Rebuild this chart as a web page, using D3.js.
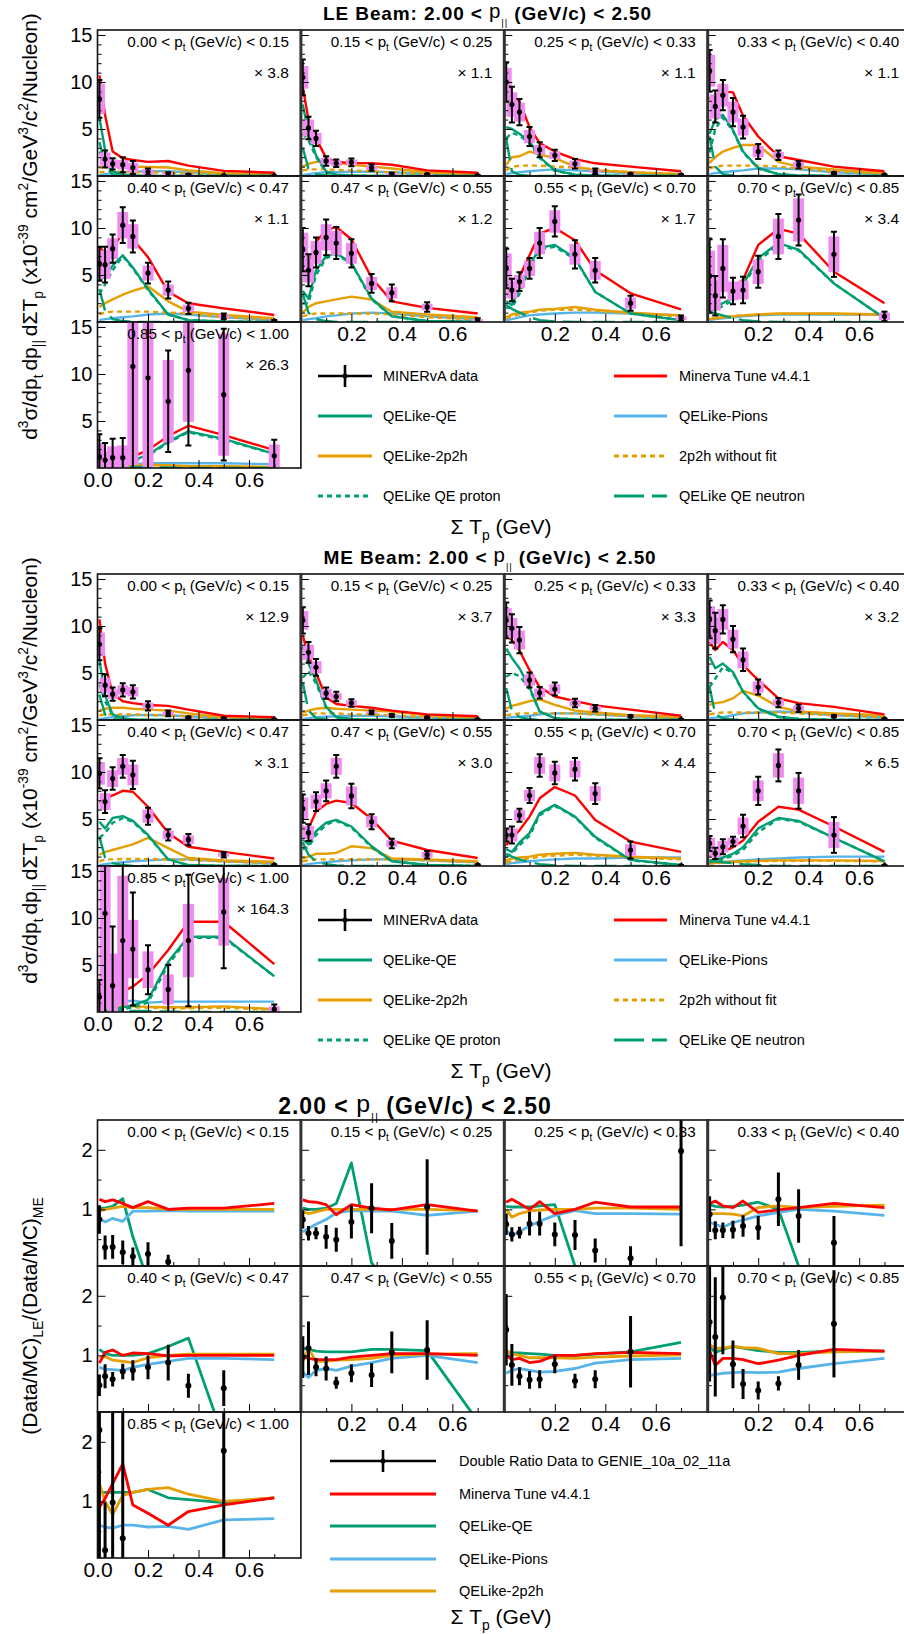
<!DOCTYPE html>
<html><head><meta charset="utf-8">
<script src="https://cdn.jsdelivr.net/npm/d3@7"></script>
<style>
body{margin:0;background:#fff}
svg{display:block}
text{font-family:"Liberation Sans",Arial,Helvetica,sans-serif;fill:#000}
</style>
</head><body>
<svg id="chart" width="904" height="1634"></svg>
<script>
// Sum of proton kinetic energy bin centres (GeV)
const sumTpCenters = [0.0075, 0.03, 0.06, 0.1, 0.14, 0.2, 0.28, 0.36, 0.5, 0.7];
const ptLow  = ["0.00","0.15","0.25","0.33","0.40","0.47","0.55","0.70","0.85"];
const ptHigh = ["0.15","0.25","0.33","0.40","0.47","0.55","0.70","0.85","1.00"];
const xTickValues = [0.0, 0.2, 0.4, 0.6];
const xsecTicks = [5, 10, 15];
const ratioTicks = [1, 2];

// ---------- LE beam cross sections (scaled, 1e-39 cm^2/GeV^3/c^2/nucleon) ----------
const leScale = ["3.8","1.1","1.1","1.1","1.1","1.2","1.7","3.4","26.3"];
const leData = [
 [8.2,1.8,1.3,1.2,0.9,0.45,0.2,0.1,0.03,0.01],
 [10.5,5.1,4.0,1.6,1.35,1.45,0.9,0.2,0.15,0.05],
 [10.0,7.6,6.8,4.2,2.8,2.2,1.3,0.5,0.2,0.1],
 [11.2,7.4,8.6,6.8,5.2,2.6,2.2,1.2,0.3,0.1],
 [6.2,6.1,7.8,10.3,9.1,5.2,3.4,1.45,0.6,0.1],
 [7.7,5.5,7.4,9.0,8.4,7.3,4.1,3.1,1.6,0.2],
 [5.7,3.4,4.3,5.7,8.4,10.7,7.2,5.5,2.0,0.4],
 [4.9,2.8,5.7,3.3,3.4,5.35,9.1,10.85,7.2,0.6],
 [1.2,0.85,1.1,1.1,10.8,9.6,7.1,10.4,7.8,1.3]
];
const leErr = [
 [2.0,0.9,0.6,0.8,0.7,0.35,0.2,0.1,0.05,0.02],
 [1.9,1.2,0.8,0.5,0.4,0.4,0.35,0.15,0.1,0.05],
 [2.1,1.9,1.4,1.0,0.8,0.6,0.5,0.3,0.1,0.05],
 [2.2,1.7,1.6,1.5,1.2,0.8,0.5,0.4,0.1,0.05],
 [1.8,1.9,1.5,1.9,1.7,1.1,0.9,0.6,0.3,0.1],
 [2.3,1.7,1.6,1.9,1.7,1.5,1.0,0.9,0.5,0.2],
 [2.1,1.2,1.0,1.1,1.6,1.6,1.5,1.3,0.8,0.3],
 [3.9,2.1,3.1,1.4,1.4,1.7,2.4,2.7,2.4,0.5],
 [2.4,1.8,2.0,2.1,12,11,5.4,8.0,7.0,1.7]
];
const leSys = [
 [1.6,0.7,0.45,0.5,0.5,0.3,0.15,0.08,0.03,0.01],
 [1.2,0.9,0.6,0.35,0.3,0.3,0.25,0.1,0.08,0.03],
 [1.5,1.3,1.0,0.7,0.5,0.4,0.35,0.2,0.08,0.03],
 [1.7,1.3,1.2,1.1,0.9,0.6,0.35,0.3,0.08,0.03],
 [1.4,1.5,1.1,1.4,1.3,0.8,0.6,0.4,0.2,0.05],
 [1.8,1.3,1.2,1.4,1.3,1.1,0.7,0.6,0.35,0.1],
 [1.6,0.9,0.7,0.8,1.2,1.2,1.1,1.0,0.6,0.2],
 [2.7,1.6,2.5,1.0,1.0,1.3,1.9,2.3,1.9,0.4],
 [1.5,0.9,1.2,1.3,10.5,9.5,4.4,5.5,6.5,1.2]
];
const leTune = [
 [10.7,6.5,2.6,1.9,1.7,1.5,1.6,1.1,0.55,0.35],
 [9.5,6.0,4.0,1.9,1.5,1.4,1.35,1.2,0.6,0.35],
 [9.1,8.6,7.9,5.2,3.5,2.6,1.8,1.35,1.0,0.5],
 [8.2,8.5,9.0,8.9,6.4,4.2,2.1,1.7,1.0,0.5],
 [8.0,7.3,7.8,9.5,8.8,6.9,3.2,2.0,1.45,0.75],
 [6.8,6.0,8.5,9.8,10.1,8.8,4.7,2.2,1.5,0.9],
 [3.0,3.2,4.8,7.1,9.4,10.0,8.7,5.5,3.05,1.35],
 [2.5,3.0,3.5,3.5,4.5,8.2,9.9,9.4,5.35,2.0],
 [0.2,0.3,0.5,0.9,1.2,1.9,3.4,4.5,3.5,1.9]
];
const leQE = [
 [6.2,2.8,0.5,0.15,0.05,0,0,0,0,0],
 [7.6,4.6,2.2,0.5,0.15,0.05,0,0,0,0],
 [5.2,5.0,4.5,3.7,2.0,0.6,0.15,0.05,0,0],
 [4.5,6.0,6.5,4.9,2.6,0.85,0.2,0.05,0,0],
 [4.5,4.8,6.0,7.1,5.8,3.5,0.8,0.2,0.05,0],
 [3.3,2.5,5.5,7.0,7.3,6.3,2.5,0.6,0.1,0.02],
 [2.2,1.8,3.6,6.0,7.9,8.2,6.8,3.2,0.9,0.2],
 [1.7,1.6,2.0,2.6,4.0,6.8,8.4,7.7,4.1,0.4],
 [0.05,0.1,0.2,0.5,0.8,1.4,2.8,3.9,3.1,1.5]
];
const leQEProton = [
 [2.6,1.5,0.4,0.1,0.03,0,0,0,0,0],
 [4.5,3.8,2.0,0.4,0.1,0.03,0,0,0,0],
 [4.0,4.6,4.3,3.5,1.9,0.55,0.15,0.05,0,0],
 [2.5,5.0,6.2,4.8,2.5,0.8,0.2,0.05,0,0],
 [3.0,4.0,5.5,7.0,5.7,3.4,0.8,0.2,0.05,0],
 [2.0,2.0,5.0,6.8,7.2,6.2,2.4,0.6,0.1,0],
 [1.5,1.5,3.0,5.8,7.7,8.0,6.7,3.2,0.9,0.2],
 [1.2,1.3,1.7,2.3,3.8,6.5,8.2,7.6,4.1,0.4],
 [0.03,0.08,0.15,0.4,0.7,1.3,2.7,3.8,3.0,1.5]
];
const leQENeutron = [
 [3.6,1.3,0.1,0.05,0,0,0,0,0,0],
 [3.0,0.8,0.2,0.05,0,0,0,0,0,0],
 [4.0,0.5,0.1,0.03,0,0,0,0,0,0],
 [4.2,1.0,0.2,0.05,0,0,0,0,0,0],
 [3.5,1.2,0.3,0.1,0,0,0,0,0,0],
 [3.0,1.0,0.3,0.1,0,0,0,0,0,0],
 [1.8,1.4,1.0,0.5,0.2,0.05,0,0,0,0],
 [1.0,0.9,0.7,0.4,0.2,0.05,0,0,0,0],
 [0.05,0.05,0.1,0.1,0.1,0.1,0.05,0,0,0]
];
const le2p2h = [
 [0.8,1.1,1.1,1.0,1.0,0.95,0.9,0.6,0.3,0.15],
 [1.0,1.3,1.5,1.5,1.4,1.2,1.0,0.8,0.4,0.2],
 [1.2,2.0,2.1,2.6,2.3,1.9,1.0,0.6,0.4,0.2],
 [1.4,2.0,2.6,3.0,3.3,3.3,1.5,1.0,0.7,0.3],
 [1.6,2.0,2.4,2.9,3.3,3.8,2.2,1.1,0.75,0.4],
 [1.0,1.6,2.0,2.2,2.4,2.7,2.4,1.1,0.8,0.5],
 [0.5,0.8,1.0,1.1,1.3,1.4,1.6,1.3,1.0,0.7],
 [0.3,0.4,0.5,0.6,0.7,0.8,0.9,0.9,0.9,0.8],
 [0.2,0.2,0.2,0.3,0.3,0.35,0.3,0.2,0.2,0.1]
];
const le2p2hNoFit = [
 [0.4,0.45,0.45,0.45,0.4,0.4,0.35,0.3,0.15,0.08],
 [0.6,0.7,0.7,0.7,0.65,0.6,0.5,0.4,0.2,0.1],
 [0.6,1.0,1.1,1.1,1.1,1.0,0.9,0.7,0.4,0.2],
 [0.8,1.0,1.1,1.1,1.1,1.1,1.0,0.8,0.5,0.25],
 [0.8,1.0,1.1,1.1,1.1,1.1,1.0,0.9,0.5,0.3],
 [0.6,0.8,0.9,0.9,0.9,0.9,0.9,0.8,0.5,0.3],
 [0.4,0.6,0.8,1.0,1.2,1.3,1.3,1.2,0.9,0.6],
 [0.3,0.4,0.5,0.6,0.7,0.8,0.85,0.85,0.85,0.75],
 [0.15,0.15,0.15,0.25,0.25,0.3,0.25,0.15,0.15,0.08]
];
const lePions = [
 [0.1,0.2,0.3,0.4,0.45,0.5,0.5,0.4,0.25,0.1],
 [0.1,0.2,0.3,0.4,0.4,0.45,0.45,0.4,0.25,0.15],
 [0.2,0.3,0.4,0.5,0.6,0.7,0.6,0.5,0.3,0.15],
 [0.2,0.3,0.4,0.5,0.6,0.8,0.8,0.7,0.4,0.2],
 [0.2,0.3,0.4,0.5,0.6,0.8,0.9,0.8,0.5,0.2],
 [0.2,0.3,0.4,0.6,0.7,0.9,1.0,0.9,0.6,0.3],
 [0.2,0.3,0.5,0.7,0.8,0.9,1.0,1.0,0.9,0.7],
 [0.2,0.3,0.4,0.5,0.6,0.7,0.8,0.8,0.8,0.8],
 [0.1,0.1,0.2,0.3,0.4,0.5,0.5,0.5,0.5,0.4]
];

// ---------- ME beam cross sections ----------
const meScale = ["12.9","3.7","3.3","3.2","3.1","3.0","4.4","6.5","164.3"];
const meData = [
 [8.05,3.7,2.75,3.2,3.0,1.5,0.7,0.25,0.15,0.05],
 [10.6,7.2,5.6,2.85,2.5,1.8,0.8,0.5,0.25,0.05],
 [10.6,9.75,8.5,4.25,2.9,3.3,1.8,1.25,0.4,0.05],
 [10.7,9.5,10.7,8.6,6.4,3.5,1.85,1.25,0.4,0.1],
 [9.85,6.85,9.3,10.6,9.7,5.3,3.3,2.8,1.2,0.1],
 [6.1,3.55,6.85,8.0,10.6,7.45,4.7,2.4,1.2,0.1],
 [3.3,3.3,5.4,7.5,10.7,9.9,10.3,7.7,1.7,0.05],
 [2.4,1.35,2.05,2.6,4.25,8.0,10.7,8.0,3.3,0.05],
 [1.6,10.5,2.8,7.6,6.7,4.5,2.4,7.6,10.65,0.3]
];
const meErr = [
 [1.7,1.15,0.7,0.7,0.7,0.5,0.3,0.1,0.08,0.03],
 [1.4,1.1,0.9,0.6,0.5,0.4,0.2,0.15,0.1,0.03],
 [1.9,1.5,1.4,0.8,0.6,0.7,0.45,0.35,0.1,0.03],
 [2.0,1.9,1.5,1.4,1.2,0.8,0.5,0.4,0.1,0.05],
 [1.6,1.2,1.2,1.2,1.5,0.9,0.6,0.6,0.3,0.05],
 [1.5,0.9,1.0,1.1,1.2,1.3,0.8,0.5,0.4,0.05],
 [0.7,0.9,0.7,0.8,1.2,1.2,1.2,1.1,0.9,0.05],
 [0.8,0.6,0.8,0.5,1.2,1.5,1.7,1.9,1.9,0.05],
 [1.8,12,6.3,10,6,2.6,2.6,7,6,0.5]
];
const meSys = [
 [1.25,0.8,0.5,0.5,0.5,0.35,0.2,0.08,0.05,0.02],
 [1.0,0.8,0.65,0.45,0.35,0.3,0.15,0.1,0.07,0.02],
 [1.3,1.1,1.0,0.6,0.45,0.5,0.35,0.25,0.08,0.02],
 [1.4,1.4,1.1,1.0,0.9,0.6,0.35,0.3,0.08,0.03],
 [1.2,0.9,0.9,0.9,1.1,0.7,0.45,0.45,0.2,0.03],
 [1.2,0.7,0.75,0.8,0.9,1.0,0.6,0.35,0.3,0.03],
 [0.6,0.7,0.55,0.6,0.9,0.9,0.9,0.8,0.6,0.03],
 [0.6,0.45,0.6,0.4,0.9,1.1,1.3,1.4,1.4,0.03],
 [1.6,10,3.4,6.9,3.1,1.95,1.6,3.9,3.6,0.3]
];
const meTune = [
 [10.7,6.0,2.8,2.0,1.8,1.6,1.5,1.1,0.45,0.3],
 [9.0,6.8,5.0,2.4,1.7,1.5,1.3,1.0,0.6,0.4],
 [9.0,8.5,7.4,5.3,3.5,2.5,2.0,1.55,1.1,0.45],
 [8.3,7.45,8.3,7.45,5.85,4.25,2.3,1.8,1.4,0.6],
 [6.7,7.2,7.5,8.0,7.9,6.3,3.5,2.05,1.5,0.8],
 [4.2,4.0,5.8,6.6,6.95,6.7,5.0,2.7,1.7,0.85],
 [2.2,3.0,3.8,5.25,7.2,8.4,7.5,4.9,2.6,1.5],
 [1.0,1.2,1.5,2.0,2.7,4.7,6.3,6.0,4.2,1.5],
 [1.0,1.2,1.6,2.2,2.7,4.0,6.6,9.6,9.6,5.1]
];
const meQE = [
 [6.4,2.6,0.6,0.2,0.05,0,0,0,0,0],
 [7.8,6.0,4.2,1.4,0.3,0.1,0,0,0,0],
 [7.6,6.6,5.5,3.5,0.9,0.2,0.05,0,0,0],
 [6.7,5.5,6.0,5.1,3.0,1.25,0.35,0.1,0,0],
 [4.7,4.0,5.1,5.3,4.8,3.3,0.7,0.1,0,0],
 [2.8,2.3,3.7,4.6,4.9,4.2,2.1,0.5,0.1,0],
 [1.8,1.5,2.5,3.5,5.6,6.5,5.25,3.1,0.65,0.1],
 [0.6,0.7,0.9,1.3,2.0,4.0,5.1,4.8,3.0,0.5],
 [0.1,0.2,0.3,0.5,0.7,1.3,5.35,8.0,8.0,3.8]
];
const meQEProton = [
 [3.8,2.0,0.5,0.15,0.03,0,0,0,0,0],
 [4.5,5.2,3.9,1.3,0.3,0.1,0,0,0,0],
 [4.6,5.0,4.7,3.3,0.9,0.2,0.05,0,0,0],
 [3.5,4.4,5.6,5.0,3.0,1.2,0.3,0.1,0,0],
 [3.0,3.5,4.6,5.1,4.7,3.2,0.7,0.1,0,0],
 [1.8,2.0,3.3,4.4,4.8,4.1,2.0,0.5,0.1,0],
 [1.0,1.3,2.2,3.2,5.4,6.4,5.2,3.0,0.6,0.1],
 [0.4,0.5,0.7,1.1,1.7,3.6,5.0,4.7,3.0,0.5],
 [0.05,0.1,0.2,0.3,0.5,1.0,5.0,7.9,7.9,3.8]
];
const meQENeutron = [
 [2.7,0.6,0.1,0.03,0,0,0,0,0,0],
 [4.0,1.0,0.2,0.05,0,0,0,0,0,0],
 [3.4,1.0,0.3,0.1,0,0,0,0,0,0],
 [3.5,0.6,0.2,0.05,0,0,0,0,0,0],
 [3.1,0.9,0.3,0.1,0,0,0,0,0,0],
 [2.5,1.2,0.5,0.2,0.05,0,0,0,0,0],
 [1.3,1.0,0.7,0.4,0.2,0.05,0,0,0,0],
 [0.5,0.5,0.4,0.3,0.2,0.1,0,0,0,0],
 [0.05,0.05,0.05,0.1,0.1,0.1,0.05,0,0,0]
];
const me2p2h = [
 [1.0,1.2,1.3,1.3,1.2,1.1,1.0,0.7,0.3,0.15],
 [0.8,1.0,1.2,1.3,1.2,1.1,1.0,0.9,0.5,0.3],
 [1.2,1.5,1.7,2.0,2.2,1.6,1.0,0.8,0.5,0.35],
 [1.6,1.8,1.9,2.3,3.1,2.6,1.4,0.9,0.7,0.5],
 [1.2,1.5,1.7,2.0,2.3,3.0,1.9,0.85,0.6,0.45],
 [0.8,1.0,1.3,1.3,1.4,2.1,1.9,0.8,0.7,0.5],
 [0.6,0.8,0.9,1.0,1.2,1.3,1.4,1.2,1.0,0.8],
 [0.3,0.35,0.4,0.45,0.5,0.55,0.6,0.6,0.6,0.55],
 [0.5,0.5,0.55,0.6,0.6,0.55,0.5,0.5,0.6,0.3]
];
const me2p2hNoFit = [
 [0.5,0.6,0.6,0.6,0.6,0.5,0.5,0.4,0.2,0.1],
 [0.5,0.6,0.7,0.7,0.7,0.6,0.6,0.5,0.3,0.15],
 [0.5,0.6,0.7,0.7,0.7,0.7,0.7,0.6,0.4,0.2],
 [0.6,0.7,0.8,0.8,0.8,0.8,0.8,0.7,0.5,0.3],
 [0.5,0.7,0.7,0.75,0.75,0.75,0.7,0.65,0.5,0.3],
 [0.5,0.6,0.7,0.7,0.7,0.7,0.7,0.7,0.6,0.4],
 [0.4,0.5,0.7,0.8,1.0,1.1,1.2,1.1,0.9,0.7],
 [0.3,0.3,0.35,0.4,0.45,0.5,0.55,0.55,0.55,0.5],
 [0.4,0.4,0.45,0.5,0.5,0.45,0.4,0.4,0.45,0.25]
];
const mePions = [
 [0.1,0.2,0.3,0.4,0.5,0.55,0.5,0.4,0.2,0.1],
 [0.1,0.2,0.3,0.35,0.4,0.45,0.45,0.4,0.25,0.15],
 [0.2,0.3,0.35,0.45,0.6,0.7,0.7,0.6,0.4,0.2],
 [0.2,0.25,0.3,0.5,0.7,0.8,0.9,0.8,0.5,0.3],
 [0.1,0.2,0.3,0.4,0.5,0.6,0.7,0.7,0.5,0.3],
 [0.1,0.2,0.3,0.4,0.5,0.6,0.7,0.7,0.6,0.4],
 [0.2,0.3,0.4,0.5,0.6,0.7,0.8,0.8,0.9,0.9],
 [0.3,0.35,0.4,0.5,0.6,0.7,0.8,0.9,1.0,1.0],
 [0.8,0.9,1.0,1.1,1.2,1.0,1.1,1.1,1.1,1.1]
];

// ---------- Double ratio (Data/MC)_LE / (Data/MC)_ME ----------
const drData = [
 [0.83,0.36,0.37,0.28,0.21,0.25,0.12,null,null,null],
 [0.83,0.6,0.6,0.54,0.49,0.79,1.02,0.47,1.04,null],
 [0.75,0.58,0.61,0.76,0.76,0.58,0.57,0.31,0.18,1.98],
 [0.92,0.65,0.65,0.66,0.72,0.69,1.17,0.89,0.44,null],
 [0.5,0.65,0.6,0.73,0.75,0.8,0.88,0.49,0.45,null],
 [0.97,1.12,0.8,0.78,0.54,0.7,0.67,1.05,1.09,null],
 [1.43,0.84,0.65,0.59,0.6,0.85,0.57,0.6,1.06,null],
 [1.56,1.31,1.97,0.85,0.52,0.41,0.53,0.84,1.53,null],
 [2.2,0.18,0.98,0.38,null,null,null,null,1.85,null]
];
const drErr = [
 [0.24,0.2,0.2,0.2,0.15,0.2,0.12,0,0,0],
 [0.15,0.12,0.1,0.2,0.2,0.28,0.42,0.3,0.8,0],
 [0.18,0.12,0.1,0.2,0.2,0.2,0.25,0.2,0.2,1.6],
 [0.3,0.15,0.13,0.15,0.18,0.2,0.45,0.45,0.45,0],
 [0.18,0.2,0.12,0.13,0.17,0.2,0.3,0.2,0.3,0],
 [0.35,0.45,0.15,0.2,0.1,0.15,0.2,0.35,0.5,0],
 [0.6,0.35,0.15,0.15,0.15,0.15,0.12,0.15,0.6,0],
 [1.0,1.0,0.95,0.4,0.25,0.15,0.12,0.25,0.9,0],
 [2.5,0.8,2.5,2.5,0,0,0,0,2.5,0]
];
const drTune = [
 [1.17,1.13,1.16,1.1,1.03,1.13,1.0,1.02,1.02,1.1],
 [1.16,1.13,1.12,1.08,0.91,1.08,1.02,0.99,1.08,0.97],
 [1.12,1.17,1.1,1.0,1.13,0.93,1.0,1.12,1.04,1.04],
 [1.1,1.14,1.06,1.03,1.14,0.95,0.99,1.03,1.1,1.03],
 [0.87,1.05,1.09,1.0,1.04,1.03,0.99,1.0,1.0,1.0],
 [0.98,0.95,0.93,0.93,0.93,0.97,1.0,1.03,1.03,1.0],
 [1.0,0.93,0.95,0.88,0.9,1.0,1.0,1.03,1.05,1.03],
 [1.08,0.83,0.95,0.95,0.93,0.86,0.92,1.0,1.1,1.07],
 [0.9,1.05,1.3,1.63,0.94,0.8,0.6,0.83,0.94,1.06]
];
const drQE = [
 [1.02,1.02,1.05,1.18,0.54,-0.2,null,null,null,null],
 [1.02,1.0,1.0,1.02,1.1,1.78,0.1,-0.3,null,null],
 [1.05,1.04,1.04,1.04,1.06,1.08,0.05,-0.3,null,null],
 [1.08,1.05,1.04,1.05,1.07,1.12,1.0,0.05,-0.3,null],
 [1.1,1.03,1.0,1.0,1.0,1.03,1.15,1.29,-0.4,null],
 [1.12,1.1,1.07,1.06,1.06,1.06,1.1,1.1,1.08,-0.1],
 [1.04,1.04,1.04,1.03,1.02,1.0,1.0,1.02,1.06,1.22],
 [1.15,1.05,1.1,1.15,1.12,1.08,1.05,1.05,1.07,1.07],
 [1.15,1.15,1.15,1.15,1.15,1.2,1.06,1.03,0.98,1.06]
];
const drPions = [
 [0.85,0.79,0.85,0.8,0.97,0.97,0.98,0.97,0.97,0.97],
 [0.62,0.68,0.75,0.83,0.94,0.98,0.97,0.97,0.9,0.97],
 [0.65,0.56,0.63,0.72,0.8,0.9,0.98,0.93,0.93,0.92],
 [0.78,0.75,0.7,0.78,0.82,0.89,0.95,1.0,0.97,0.9],
 [0.8,0.77,0.76,0.75,0.8,0.85,0.9,0.95,0.95,0.93],
 [0.72,0.63,0.75,0.78,0.75,0.82,0.88,0.95,1.0,0.88],
 [0.7,0.75,0.78,0.75,0.72,0.73,0.78,0.87,0.93,0.95],
 [0.66,0.68,0.7,0.71,0.72,0.71,0.72,0.78,0.86,0.95],
 [0.6,0.57,0.55,0.6,0.6,0.57,0.58,0.53,0.69,0.71]
];
const dr2p2h = [
 [0.97,1.0,1.02,1.05,1.03,1.03,1.0,1.0,1.0,1.0],
 [0.96,0.93,0.96,1.0,1.0,1.0,1.0,1.0,1.0,0.98],
 [1.0,0.87,0.93,0.97,0.99,1.0,1.0,1.02,1.02,1.0],
 [0.93,0.93,0.93,0.92,0.89,1.03,1.06,1.03,1.05,1.07],
 [0.96,0.98,0.92,0.9,0.88,0.96,1.0,1.02,1.02,1.02],
 [0.9,1.12,0.9,0.9,0.92,0.93,0.95,1.0,1.02,1.03],
 [1.09,1.02,1.0,0.96,0.96,0.96,0.95,0.97,0.99,1.01],
 [1.18,1.12,1.12,1.15,1.13,1.12,1.03,1.03,1.06,1.07],
 [1.3,1.0,0.78,1.1,1.15,1.2,1.23,1.12,1.0,1.06]
];

// ---------- styling ----------
const C = {tune:"#ff0000", qe:"#009e73", pions:"#56b4e9", mec:"#e69f00", sys:"#f08cf0"};
const svg = d3.select("#chart");
const colX = [97.5, 300.9, 504.3, 707.7];
const panelW = 203.4, panelH = 146;
const x = d3.scaleLinear().domain([0, 0.8]).range([0, 202]);

// text with sub/superscripts built from tspans
function rich(sel, parts, fs) {
  let cur = 0;
  parts.forEach(([t, k]) => {
    let off = 0, size = fs, weight = null;
    if (k === "sup") { off = -0.42 * fs; size = 0.66 * fs; }
    else if (k === "sub") { off = 0.28 * fs; size = 0.66 * fs; }
    else if (k === "bigp") { off = -0.1 * fs; size = 1.08 * fs; weight = "normal"; }
    else if (k === "par") { off = 0.32 * fs; size = 0.5 * fs; weight = "normal"; }
    const ts = sel.append("tspan").text(t).attr("font-size", size).attr("dy", off - cur);
    if (weight) ts.attr("font-weight", weight);
    cur = off;
  });
}

function drawFigure(o) {
  const y = d3.scaleLinear().domain(o.yDomain).range([panelH, 0]);
  for (let i = 0; i < 9; i++) {
    const col = i % 4, row = Math.floor(i / 4);
    const g = svg.append("g").attr("transform", `translate(${colX[col]},${o.top + row * panelH})`);
    const cid = `clip-${o.id}-${i}`;
    g.append("clipPath").attr("id", cid).append("rect").attr("width", panelW).attr("height", panelH);
    const inner = g.append("g").attr("clip-path", `url(#${cid})`);

    // model curves
    o.curves.forEach(cv => {
      const vals = cv.vals[i];
      const line = d3.line().defined(d => d[1] != null)
        .x(d => x(d[0])).y(d => y(d[1]));
      inner.append("path").datum(sumTpCenters.map((c, k) => [c, vals[k]]))
        .attr("d", line).attr("fill", "none").attr("stroke", cv.color)
        .attr("stroke-width", cv.width || 2.4).attr("stroke-dasharray", cv.dash || null)
        .attr("stroke-linejoin", "round");
    });
    // systematic bands
    if (o.sys) {
      inner.selectAll("rect.sys").data(sumTpCenters.map((c, k) => ({c, v: o.data[i][k], s: o.sys[i][k]})))
        .enter().append("rect").attr("class", "sys")
        .attr("x", d => x(d.c) - 5.5).attr("width", 11)
        .attr("y", d => y(d.v + d.s)).attr("height", d => Math.max(0.5, y(d.v - d.s) - y(d.v + d.s)))
        .attr("fill", C.sys);
    }
    // data points with errors
    const pts = sumTpCenters.map((c, k) => ({c, v: o.data[i][k], e: o.err[i][k]})).filter(d => d.v != null);
    const eg = inner.append("g").attr("stroke", "#000").attr("stroke-width", o.errWidth);
    pts.forEach(d => {
      if (d.e > 0) {
        eg.append("line").attr("x1", x(d.c)).attr("x2", x(d.c)).attr("y1", y(d.v - d.e)).attr("y2", y(d.v + d.e));
        if (o.caps) {
          [d.v - d.e, d.v + d.e].forEach(vv => eg.append("line")
            .attr("x1", x(d.c) - 3).attr("x2", x(d.c) + 3).attr("y1", y(vv)).attr("y2", y(vv)));
        }
      }
    });
    inner.selectAll("circle.pt").data(pts).enter().append("circle")
      .attr("cx", d => x(d.c)).attr("cy", d => y(d.v)).attr("r", o.dotR).attr("fill", "#000");

    // inner tick marks
    g.append("g").call(d3.axisLeft(y).tickValues(o.minorTicks).tickSize(-4).tickFormat(""))
      .call(s => s.select(".domain").remove());
    g.append("g").call(d3.axisLeft(y).tickValues(o.yTicks).tickSize(-8).tickFormat(""))
      .call(s => s.select(".domain").remove());
    g.append("g").attr("transform", `translate(0,${panelH})`)
      .call(d3.axisBottom(x).tickValues([0.1, 0.3, 0.5, 0.7]).tickSize(-4).tickFormat(""))
      .call(s => s.select(".domain").remove());
    g.append("g").attr("transform", `translate(0,${panelH})`)
      .call(d3.axisBottom(x).tickValues([0.2, 0.4, 0.6]).tickSize(-8).tickFormat(""))
      .call(s => s.select(".domain").remove());
    g.selectAll(".tick line").attr("stroke", "#000").attr("stroke-width", 1);

    // frame
    g.append("rect").attr("width", panelW).attr("height", panelH)
      .attr("fill", "none").attr("stroke", "#111").attr("stroke-width", 1.6);
    if (col > 0) g.append("line").attr("x1", 0).attr("x2", 0).attr("y1", 0).attr("y2", panelH)
      .attr("stroke", "#333").attr("stroke-width", 3);

    // tick labels
    if (col === 0) {
      g.append("g").call(d3.axisLeft(y).tickValues(o.yTicks).tickSize(0).tickPadding(5).tickFormat(d3.format("d")))
        .call(s => s.select(".domain").remove())
        .call(s => s.selectAll("text").attr("font-size", 20).attr("font-family", "Liberation Sans, Arial, sans-serif"));
    }
    if (row === 2 || (row === 1 && col > 0)) {
      const tv = col === 0 ? xTickValues : xTickValues.slice(1);
      g.append("g").attr("transform", `translate(0,${panelH})`)
        .call(d3.axisBottom(x).tickValues(tv).tickSize(0).tickPadding(4).tickFormat(d3.format(".1f")))
        .call(s => s.select(".domain").remove())
        .call(s => s.selectAll("text").attr("font-size", 21).attr("font-family", "Liberation Sans, Arial, sans-serif"));
    }

    // pt bin label
    const lab = g.append("text").attr("x", panelW - 12).attr("y", 16.5).attr("text-anchor", "end");
    rich(lab, [[`${ptLow[i]} < p`, "n"], ["t", "sub"], [` (GeV/c) < ${ptHigh[i]}`, "n"]], 15.2);
    if (o.scale) {
      g.append("text").attr("x", panelW - 12).attr("y", 48).attr("text-anchor", "end")
        .attr("font-size", 15.5).text(`× ${o.scale[i]}`);
    }
  }

  // titles
  const t = svg.append("text").attr("x", o.titleX).attr("y", o.titleY).attr("text-anchor", "middle")
    .attr("font-weight", "bold").attr("letter-spacing", o.titleSpacing);
  rich(t, o.title, o.titleSize);
  const yt = svg.append("text").attr("transform", `translate(37,${o.yTitleY}) rotate(-90)`)
    .attr("text-anchor", "middle");
  rich(yt, o.yTitle, o.yTitleSize);
  const xt = svg.append("text").attr("x", 501).attr("y", o.xTitleY).attr("text-anchor", "middle");
  rich(xt, [["Σ T", "n"], ["p", "sub"], [" (GeV)", "n"]], 21);

  // legend
  o.legend.forEach(it => {
    const lg = svg.append("g");
    if (it.kind === "data") {
      lg.append("line").attr("x1", it.x1).attr("x2", it.x2).attr("y1", it.y).attr("y2", it.y)
        .attr("stroke", "#000").attr("stroke-width", 2.6);
      const mx = (it.x1 + it.x2) / 2;
      lg.append("line").attr("x1", mx).attr("x2", mx).attr("y1", it.y - 11).attr("y2", it.y + 11)
        .attr("stroke", "#000").attr("stroke-width", 2.6);
      lg.append("circle").attr("cx", mx).attr("cy", it.y).attr("r", 2.5).attr("fill", "#000");
    } else {
      lg.append("line").attr("x1", it.x1).attr("x2", it.x2).attr("y1", it.y).attr("y2", it.y)
        .attr("stroke", it.color).attr("stroke-width", 3).attr("stroke-dasharray", it.dash || null);
    }
    lg.append("text").attr("x", it.tx).attr("y", it.y + 5).attr("font-size", it.fs).text(it.label);
  });
}

function xsecLegend(base) {
  const c1 = {x1: 318, x2: 372, tx: 383}, c2 = {x1: 614, x2: 667, tx: 679};
  const rows = [base, base + 40, base + 80, base + 120];
  return [
    {...c1, y: rows[0], kind: "data", label: "MINERvA data", fs: 14.5},
    {...c2, y: rows[0], color: C.tune, label: "Minerva Tune v4.4.1", fs: 14.5},
    {...c1, y: rows[1], color: C.qe, label: "QELike-QE", fs: 14.5},
    {...c2, y: rows[1], color: C.pions, label: "QELike-Pions", fs: 14.5},
    {...c1, y: rows[2], color: C.mec, label: "QELike-2p2h", fs: 14.5},
    {...c2, y: rows[2], color: C.mec, dash: "5,4", label: "2p2h without fit", fs: 14.5},
    {...c1, y: rows[3], color: C.qe, dash: "5,4", label: "QELike QE proton", fs: 14.5},
    {...c2, y: rows[3], color: C.qe, dash: "30,8", label: "QELike QE neutron", fs: 14.5}
  ];
}

const xsecYTitle = [["d","n"],["3","sup"],["σ/dp","n"],["t ","sub"],["dp","n"],["|| ","sub"],["dΣT","n"],["p","sub"],
  [" (x10","n"],["-39","sup"],[" cm","n"],["2","sup"],["/GeV","n"],["3","sup"],["/c","n"],["2","sup"],["/Nucleon)","n"]];

function xsecCurves(tune, qe, pions, mec, mecNF, qep, qen) {
  return [
    {vals: pions, color: C.pions},
    {vals: mecNF, color: C.mec, dash: "5,4"},
    {vals: mec, color: C.mec},
    {vals: qen, color: C.qe, dash: "22,8"},
    {vals: qep, color: C.qe, dash: "5,4"},
    {vals: qe, color: C.qe},
    {vals: tune, color: C.tune}
  ];
}

drawFigure({
  id: "le", top: 30, yDomain: [0, 15.53], yTicks: xsecTicks, minorTicks: d3.range(1, 16),
  data: leData, err: leErr, sys: leSys, caps: true, errWidth: 2, dotR: 2.6, scale: leScale,
  curves: xsecCurves(leTune, leQE, lePions, le2p2h, le2p2hNoFit, leQEProton, leQENeutron),
  title: [["LE Beam: 2.00 < ","n"],["p","bigp"],["||","par"],[" (GeV/c) < 2.50","n"]],
  titleX: 487.5, titleY: 19.5, titleSize: 19, titleSpacing: 0.9,
  yTitle: xsecYTitle, yTitleY: 226.5, yTitleSize: 21, xTitleY: 534,
  legend: xsecLegend(376)
});

drawFigure({
  id: "me", top: 574, yDomain: [0, 15.53], yTicks: xsecTicks, minorTicks: d3.range(1, 16),
  data: meData, err: meErr, sys: meSys, caps: true, errWidth: 2, dotR: 2.6, scale: meScale,
  curves: xsecCurves(meTune, meQE, mePions, me2p2h, me2p2hNoFit, meQEProton, meQENeutron),
  title: [["ME Beam: 2.00 < ","n"],["p","bigp"],["||","par"],[" (GeV/c) < 2.50","n"]],
  titleX: 490, titleY: 563.5, titleSize: 19, titleSpacing: 0.9,
  yTitle: xsecYTitle, yTitleY: 770.5, yTitleSize: 21, xTitleY: 1078,
  legend: xsecLegend(920)
});

const drLegendRows = [1461, 1494, 1526, 1559, 1591];
drawFigure({
  id: "dr", top: 1120, yDomain: [0.05, 2.5], yTicks: ratioTicks, minorTicks: [0.5, 1.5],
  data: drData, err: drErr, sys: null, caps: false, errWidth: 3, dotR: 3, scale: null,
  curves: [
    {vals: drQE, color: C.qe, width: 2.8},
    {vals: drPions, color: C.pions, width: 2.8},
    {vals: dr2p2h, color: C.mec, width: 2.8},
    {vals: drTune, color: C.tune, width: 2.8}
  ],
  title: [["2.00 < ","n"],["p","bigp"],["||","par"],[" (GeV/c) < 2.50","n"]],
  titleX: 415, titleY: 1114, titleSize: 23, titleSpacing: 1,
  yTitle: [["(Data/MC)","n"],["LE","sub"],["/(Data/MC)","n"],["ME","sub"]], yTitleY: 1316, yTitleSize: 21,
  xTitleY: 1624,
  legend: [
    {x1: 330, x2: 436, tx: 459, y: drLegendRows[0], kind: "data", label: "Double Ratio Data to GENIE_10a_02_11a", fs: 14.5},
    {x1: 330, x2: 436, tx: 459, y: drLegendRows[1], color: C.tune, label: "Minerva Tune v4.4.1", fs: 14.5},
    {x1: 330, x2: 436, tx: 459, y: drLegendRows[2], color: C.qe, label: "QELike-QE", fs: 14.5},
    {x1: 330, x2: 436, tx: 459, y: drLegendRows[3], color: C.pions, label: "QELike-Pions", fs: 14.5},
    {x1: 330, x2: 436, tx: 459, y: drLegendRows[4], color: C.mec, label: "QELike-2p2h", fs: 14.5}
  ]
});
</script>
</body></html>
